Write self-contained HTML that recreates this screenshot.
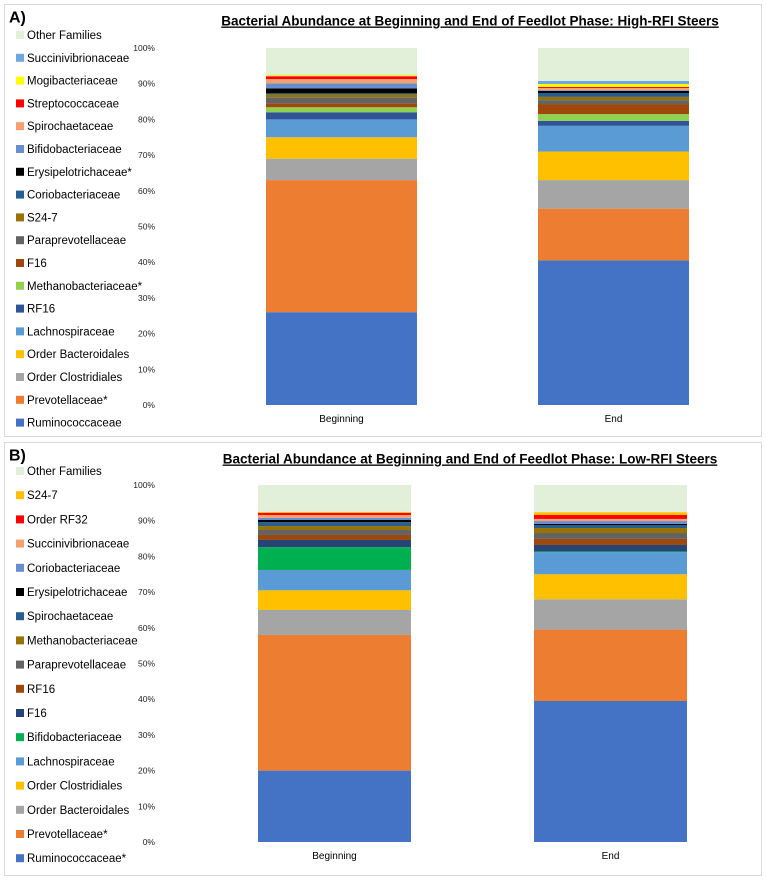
<!DOCTYPE html>
<html><head><meta charset="utf-8"><style>
body{margin:0;width:766px;height:879px;background:#fff;font-family:"Liberation Sans",sans-serif;overflow:hidden}
svg text{font-family:"Liberation Sans",sans-serif}
</style></head><body>
<svg id="chart" width="766" height="879"></svg>
<script>
// Panel A data (bottom to top)
const famA=["Ruminococcaceae","Prevotellaceae*","Order Clostridiales","Order Bacteroidales","Lachnospiraceae","RF16","Methanobacteriaceae*","F16","Paraprevotellaceae","S24-7","Coriobacteriaceae","Erysipelotrichaceae*","Bifidobacteriaceae","Spirochaetaceae","Streptococcaceae","Mogibacteriaceae","Succinivibrionaceae","Other Families"];
const colA=["#4472c4","#ed7d31","#a5a5a5","#ffc000","#5b9bd5","#2f5597","#92d050","#9e480e","#636363","#997300","#255e91","#000000","#698ed0","#f4a070","#ff0000","#ffff00","#6fa8dc","#e2efd9"];
const begA=[26,37,6,6,5,2,1.4,1.1,1.7,0.8,0.3,1.4,1.4,1.2,0.8,0.3,0.1,7.5];
const endA=[40.5,14.5,8,8,7.2,1.4,1.9,2.8,1.1,0.9,1.1,0.6,0.2,0.6,0.3,0.8,0.9,9.2];
// Panel B data
const famB=["Ruminococcaceae*","Prevotellaceae*","Order Bacteroidales","Order Clostridiales","Lachnospiraceae","Bifidobacteriaceae","F16","RF16","Paraprevotellaceae","Methanobacteriaceae","Spirochaetaceae","Erysipelotrichaceae","Coriobacteriaceae","Succinivibrionaceae","Order RF32","S24-7","Other Families"];
const colB=["#4472c4","#ed7d31","#a5a5a5","#ffc000","#5b9bd5","#00b050","#264478","#9e480e","#636363","#997300","#255e91","#000000","#698ed0","#f4a070","#ff0000","#ffc000","#e2efd9"];
const begB=[20,38,7,5.5,5.7,6.4,2,1.4,1.4,1.1,1.1,0.6,0.6,0.8,0.6,0.3,7.5];
const endB=[39.5,20,8.5,7,6.2,0.2,1.8,1.7,1.65,1.4,0.85,0.3,0.8,0.6,1.1,0.8,7.6];
const barLabels=["Beginning","End"];
const ticks=[0,10,20,30,40,50,60,70,80,90,100];

const NS="http://www.w3.org/2000/svg";
const svg=document.getElementById('chart');
function mk(tag,attrs,parent){const e=document.createElementNS(NS,tag);for(const k in attrs)e.setAttribute(k,attrs[k]);(parent||svg).appendChild(e);return e;}

function panel(p){
  const g=mk('g',{});
  
  
  const fr=mk('rect',{x:p.x0,y:p.y0,width:757,height:p.h,fill:'#fff',stroke:'#d9d9d9'},g);
  
  
  const lt=mk('text',{x:9,y:p.y0+18,'font-size':16,'font-weight':'bold'},g);lt.textContent=p.id+')';
  
  
  const t=mk('text',{x:470,y:p.y0+21,'font-size':13.5,'font-weight':'bold','text-anchor':'middle','text-decoration':'underline'},g);
  t.textContent=p.title;
  
  
  const yS=v=>p.base-v*p.scale;
  ticks.forEach(v=>{const tx=mk('text',{x:155,y:yS(v)+3,'font-size':8.5,'text-anchor':'end',fill:'#222'},g);tx.textContent=v+'%';
    
    });
  [p.beg,p.end].forEach((vals,bi)=>{
    let cum=0;const bx=p.bx[bi];
    vals.forEach((v,i)=>{
      const r=mk('rect',{x:bx,y:yS(cum+v),width:p.bw,height:v*p.scale,fill:p.col[i]},g);
      
      
      cum+=v;
    });
    const xl=mk('text',{x:bx+p.bw/2,y:p.base+17,'font-size':10,'text-anchor':'middle'},g);xl.textContent=barLabels[bi];
    
    
  });
  const n=p.fam.length;
  for(let k=0;k<n;k++){
    const i=n-1-k;const y=p.ly0+k*p.lstep;
    const sq=mk('rect',{x:16,y:y-8,width:8,height:8,fill:p.col[i]},g);
    
    
    const tx=mk('text',{x:27,y:y,'font-size':11.5},g);tx.textContent=p.fam[i];
    
    
  }
}
panel({id:'A',x0:4.5,y0:4.5,h:432,title:'Bacterial Abundance at Beginning and End of Feedlot Phase: High-RFI Steers',
  base:405,scale:3.57,bx:[266,538],bw:151,beg:begA,end:endA,fam:famA,col:colA,ly0:39,lstep:22.8});
panel({id:'B',x0:4.5,y0:442.5,h:433,title:'Bacterial Abundance at Beginning and End of Feedlot Phase: Low-RFI Steers',
  base:842,scale:3.57,bx:[258,534],bw:153,beg:begB,end:endB,fam:famB,col:colB,ly0:475,lstep:24.2});
</script>
</body></html>
